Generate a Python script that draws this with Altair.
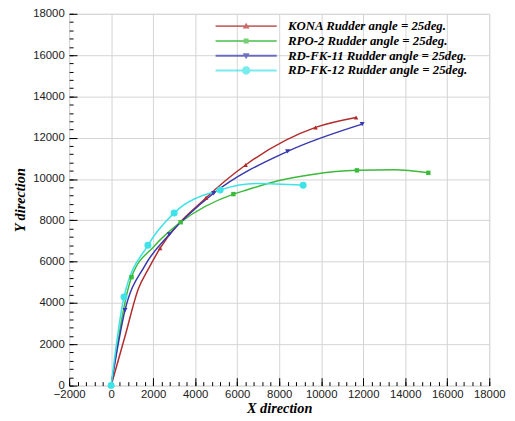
import altair as alt
import pandas as pd

series = ["KONA Rudder angle = 25deg.", "RPO-2 Rudder angle = 25deg.",
          "RD-FK-11 Rudder angle = 25deg.", "RD-FK-12 Rudder angle = 25deg."]
colors = ["#b22c2c", "#3cba3c", "#3737b0", "#3fe2e6"]

# curve points
kona_line_x = [0, 650, 1300, 1800, 2330, 4520, 6400, 9730, 11660]
kona_line_y = [0, 2350, 4700, 5700, 6650, 9090, 10680, 12500, 12980]
kona_mark_x = [0, 2330, 4520, 6400, 9730, 11660]
kona_mark_y = [0, 6650, 9090, 10680, 12500, 12980]

rpo_line_x = [0, 970, 2050, 3310, 5820, 6450, 8000, 9580, 11700, 13490, 15100]
rpo_line_y = [0, 5250, 6750, 7910, 9270, 9470, 9930, 10220, 10420, 10450, 10300]
rpo_mark_x = [0, 970, 3310, 5820, 11700, 15100]
rpo_mark_y = [0, 5250, 7910, 9270, 10420, 10300]

fk11_line_x = [0, 660, 1600, 2770, 4880, 8400, 11950]
fk11_line_y = [0, 3650, 5800, 7320, 9310, 11340, 12660]
fk11_mark_x = [0, 660, 2770, 4880, 8400, 11950]
fk11_mark_y = [0, 3650, 7320, 9310, 11340, 12660]

fk12_line_x = [0, 610, 1750, 3000, 5190, 6900, 9140]
fk12_line_y = [0, 4290, 6790, 8360, 9470, 9780, 9700]
fk12_mark_x = [0, 610, 1750, 3000, 5190, 9140]
fk12_mark_y = [0, 4290, 6790, 8360, 9470, 9700]

x_ticks = list(range(-2000, 18001, 2000))
y_ticks = list(range(0, 18001, 2000))
x_minor = list(range(-2000, 18001, 400))
y_minor = list(range(0, 18001, 400))

lines = [(kona_line_x, kona_line_y), (rpo_line_x, rpo_line_y),
         (fk11_line_x, fk11_line_y), (fk12_line_x, fk12_line_y)]
marks = [(kona_mark_x, kona_mark_y), (rpo_mark_x, rpo_mark_y),
         (fk11_mark_x, fk11_mark_y), (fk12_mark_x, fk12_mark_y)]
shapes = ["triangle-up", "square", "triangle-down", "circle"]
sizes = [22, 20, 26, 50]

line_rows, mark_rows = [], []
for s, (xs, ys) in zip(series, lines):
    for i, (a, b) in enumerate(zip(xs, ys)):
        line_rows.append({"series": s, "x": a, "y": b, "order": i})
for s, (xs, ys) in zip(series, marks):
    for a, b in zip(xs, ys):
        mark_rows.append({"series": s, "x": a, "y": b})
line_df = pd.DataFrame(line_rows)
mark_df = pd.DataFrame(mark_rows)

W, H = 426, 377
XD = [-2000, 18000]
YD = [0, 18000]

main_x_axis = alt.Axis(values=x_ticks, ticks=False, domain=False, grid=True,
                       gridColor="#d4d4d4", gridWidth=1, labelFlush=False,
                       labelOverlap=False, labelFont="Liberation Sans", format="d",
                       labelFontSize=11.5, labelColor="#222222", labelPadding=3,
                       title="X direction", titleFont="Liberation Serif",
                       titleFontStyle="italic", titleFontWeight="bold",
                       titleFontSize=14.5, titleColor="black", titlePadding=2)
main_y_axis = alt.Axis(values=y_ticks, ticks=False, domain=False, grid=True,
                       gridColor="#d4d4d4", gridWidth=1, labelFlush=False,
                       labelOverlap=False, labelFont="Liberation Sans", format="d",
                       labelFontSize=11.5, labelColor="#222222", labelPadding=5,
                       title="Y direction", titleFont="Liberation Serif",
                       titleFontStyle="italic", titleFontWeight="bold",
                       titleFontSize=14.5, titleColor="black", titlePadding=5)

xenc = alt.X("x:Q", scale=alt.Scale(domain=XD, nice=False, zero=False), axis=main_x_axis)
yenc = alt.Y("y:Q", scale=alt.Scale(domain=YD, nice=False, zero=False), axis=main_y_axis)

layers = []
for s, c in zip(series, colors):
    layers.append(
        alt.Chart(line_df).transform_filter(alt.datum.series == s)
        .mark_line(color=c, strokeWidth=1.5, interpolate="monotone")
        .encode(x=xenc, y=yenc, order="order:O")
    )
for s, c, sh, sz in zip(series, colors, shapes, sizes):
    layers.append(
        alt.Chart(mark_df).transform_filter(alt.datum.series == s)
        .mark_point(color=c, shape=sh, size=sz, filled=True, opacity=1)
        .encode(x=xenc, y=yenc)
    )

# legend symbols: line segment with marker (custom paths, all clockwise)
bar = "M-6.2,-0.2L6.2,-0.2L6.2,0.2L-6.2,0.2Z"
leg_paths = [
    bar + "M0,-0.7L0.7,0.5L-0.7,0.5Z",
    bar + "M-0.5,-0.5L0.5,-0.5L0.5,0.5L-0.5,0.5Z",
    bar + "M0,0.7L-0.7,-0.5L0.7,-0.5Z",
    bar + "M-0.85,0A0.85,0.85 0 1,1 0.85,0A0.85,0.85 0 1,1 -0.85,0Z",
]


def make_legend():
    return alt.Legend(title=None, orient="none", legendX=173, legendY=6,
                      symbolSize=100, symbolStrokeWidth=0, symbolOffset=0,
                      labelOffset=36, labelFont="Liberation Serif",
                      labelFontStyle="italic", labelFontWeight="bold",
                      labelFontSize=13, labelColor="black", labelLimit=400,
                      rowPadding=1, padding=0)


layers.append(
    alt.Chart(mark_df).transform_filter("false")
    .mark_point(filled=True)
    .encode(x=xenc, y=yenc,
            color=alt.Color("series:N", scale=alt.Scale(domain=series, range=colors),
                            legend=make_legend()),
            shape=alt.Shape("series:N", scale=alt.Scale(domain=series, range=leg_paths),
                            legend=make_legend()))
)

main = alt.layer(*layers)


def tick_layer(xvals, yvals, size):
    return (
        alt.Chart(mark_df).transform_filter("false").mark_point()
        .encode(
            x=alt.X("x:Q", scale=alt.Scale(domain=XD, nice=False, zero=False),
                    axis=alt.Axis(orient="top", offset=-H, values=xvals, labels=False,
                                  domain=False, grid=False, ticks=True, tickSize=size,
                                  tickColor="black", tickWidth=1, title=None)),
            y=alt.Y("y:Q", scale=alt.Scale(domain=YD, nice=False, zero=False),
                    axis=alt.Axis(orient="right", offset=-W, values=yvals, labels=False,
                                  domain=False, grid=False, ticks=True, tickSize=size,
                                  tickColor="black", tickWidth=1, title=None)),
        )
    )


chart = (
    alt.layer(main, tick_layer(x_ticks, y_ticks, 8), tick_layer(x_minor, y_minor, 4))
    .resolve_scale(x="independent", y="independent")
    .properties(width=W, height=H,
                autosize=alt.AutoSizeParams(type="none"),
                padding={"left": 62, "top": 3, "right": 18, "bottom": 30})
    .configure_view(stroke="black", strokeWidth=2)
    .configure(background="white")
)

chart.save("out.html", embed_options={"renderer": "svg", "actions": False})
